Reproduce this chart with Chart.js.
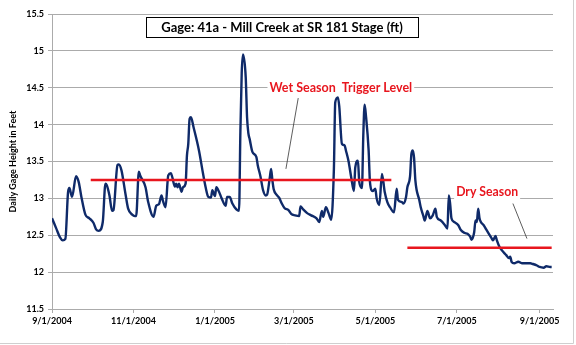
<!DOCTYPE html>
<html>
<head>
<meta charset="utf-8">
<script src="https://cdn.jsdelivr.net/npm/chart.js@4.4.1/dist/chart.umd.min.js"></script>
<style>
body { margin: 0; background: #fff; }
canvas { display: block; }
</style>
</head>
<body>
<canvas id="myChart" width="576" height="345"></canvas>
<script>
// day number counted from 9/1/2004, stage in feet
var days = [0, 3, 6, 8, 10, 12, 13, 15, 18, 20, 22, 25, 28, 31, 33, 35, 38, 40, 41, 43, 45, 46, 49, 50, 52, 55, 57, 60, 62, 63,
    65, 66, 70, 72, 76, 78, 80, 82, 83, 85, 87, 89, 90, 92, 93, 94, 95, 97, 98, 100, 101, 102, 103, 104, 106, 110, 113, 115, 117, 119,
    120, 122, 123, 125, 127, 130, 131, 133, 135, 138, 140, 141, 142, 143, 145, 146, 147, 148, 150, 153, 154, 156, 158, 160, 161, 163, 164, 165, 166, 168,
    170, 172, 174, 177, 179, 182, 185, 186, 188, 191, 194, 198, 200, 202, 203, 205, 207, 209, 211, 212, 214, 215, 217, 219, 220, 222, 224, 226, 227, 229,
    230, 232, 233, 234, 235, 237, 238, 240, 242, 243, 245, 247, 249, 251, 253, 256, 258, 259, 262, 263, 265, 266, 268, 269, 270, 271, 272, 275, 276, 278,
    279, 281, 283, 285, 287, 288, 291, 294, 296, 297, 298, 299, 301, 304, 306, 309, 311, 313, 314, 316, 317, 318, 319, 320, 321, 323, 325, 327, 329, 330,
    332, 333, 335, 338, 340, 342, 343, 344, 346, 349, 352, 355, 358, 360, 363, 365, 368, 370, 373, 374]
var stage = [12.73, 12.60, 12.47, 12.43, 12.45, 13.08, 13.14, 13.02, 13.30, 13.22, 13.02, 12.78, 12.73, 12.67, 12.58, 12.56, 12.68, 13.20, 13.18, 13.04, 12.83, 12.84, 13.45, 13.46, 13.38, 13.06, 12.86, 12.78, 12.76, 12.76,
    13.36, 13.31, 13.15, 12.95, 12.75, 12.90, 12.92, 13.04, 12.97, 12.88, 13.31, 13.34, 13.29, 13.16, 13.20, 13.15, 13.20, 13.09, 13.15, 13.20, 13.58, 13.74, 14.08, 14.10, 13.96, 13.65, 13.34, 13.15, 13.02, 13.01,
    13.11, 13.03, 13.15, 13.09, 13.00, 12.90, 13.02, 13.02, 12.93, 12.85, 12.83, 13.90, 14.70, 14.95, 14.64, 14.10, 13.88, 13.80, 13.63, 13.56, 13.45, 13.30, 13.11, 13.04, 13.05, 13.28, 13.40, 13.24, 13.12, 13.05,
    13.01, 12.93, 12.87, 12.84, 12.79, 12.77, 12.76, 12.89, 12.85, 12.80, 12.77, 12.73, 12.68, 12.83, 12.75, 12.88, 12.80, 12.71, 13.40, 14.30, 14.37, 14.25, 13.74, 13.72, 13.65, 13.50, 13.28, 13.10, 13.42, 13.51,
    13.22, 13.14, 13.85, 14.27, 14.12, 13.65, 13.22, 13.10, 13.13, 13.00, 12.91, 13.33, 13.09, 12.95, 12.88, 12.81, 13.13, 12.98, 12.95, 12.93, 13.02, 13.15, 13.30, 13.60, 13.65, 13.55, 13.24, 12.97, 12.88, 12.76,
    12.70, 12.83, 12.73, 12.77, 12.86, 12.75, 12.70, 12.64, 12.59, 13.04, 12.93, 12.73, 12.68, 12.64, 12.57, 12.53, 12.52, 12.48, 12.44, 12.54, 12.70, 12.68, 12.86, 12.73, 12.68, 12.64, 12.58, 12.52, 12.46, 12.43,
    12.49, 12.43, 12.34, 12.27, 12.23, 12.19, 12.21, 12.14, 12.12, 12.14, 12.12, 12.12, 12.12, 12.11, 12.09, 12.07, 12.06, 12.08, 12.07, 12.07]

// the two red reference lines
var wetDays = [29, 254]
var wetLevel = [13.25, 13.25]
var dryDays = [266, 374]
var dryLevel = [12.33, 12.33]

var tickDays = [0, 61, 122, 181, 242, 303, 365]
var tickLabels = ['9/1/2004', '11/1/2004', '1/1/2005', '3/1/2005', '5/1/2005', '7/1/2005', '9/1/2005']

var titulo = 'Gage: 41a - Mill Creek at SR 181 Stage (ft)'
var ejeY = 'Daily Gage Height in Feet'
var wetText = 'Wet Season  Trigger Level'
var dryText = 'Dry Season'

var navy = '#0f2a69'
var rojo = '#e8161e'
var gris = '#ababab'

function puntos(xs, ys) {
    var arr = []
    for (let i = 0; i < xs.length; i++) {
        arr.push({ x: xs[i], y: ys[i] })
    }
    return arr
}

// title box, red labels with their leader lines, outer frame
const notas = {
    id: 'notas',
    beforeDraw(chart) {
        const ctx = chart.ctx
        ctx.save()
        ctx.strokeStyle = '#cfcfcf'
        ctx.lineWidth = 1
        ctx.beginPath()
        ctx.moveTo(573.5, 0)
        ctx.lineTo(573.5, 343.5)
        ctx.lineTo(0, 343.5)
        ctx.stroke()
        ctx.restore()
    },
    afterDraw(chart) {
        const ctx = chart.ctx
        const sx = chart.scales.x
        const sy = chart.scales.y
        ctx.save()

        // title
        ctx.fillStyle = '#fff'
        ctx.fillRect(146, 17, 272, 20)
        ctx.strokeStyle = '#000'
        ctx.lineWidth = 1
        ctx.strokeRect(146.5, 17.5, 272, 20)
        ctx.fillStyle = '#000'
        ctx.font = 'bold 13px Lato'
        ctx.textAlign = 'center'
        ctx.textBaseline = 'middle'
        ctx.fillText(titulo, 282, 28, 266)

        // leader lines
        ctx.strokeStyle = '#333'
        ctx.lineWidth = 0.8
        ctx.beginPath()
        ctx.moveTo(sx.getPixelForValue(184.3), sy.getPixelForValue(14.36))
        ctx.lineTo(sx.getPixelForValue(175.1), sy.getPixelForValue(13.40))
        ctx.moveTo(sx.getPixelForValue(345), sy.getPixelForValue(12.93))
        ctx.lineTo(sx.getPixelForValue(355.5), sy.getPixelForValue(12.455))
        ctx.stroke()

        // red labels
        ctx.font = 'bold 12.5px Lato'
        var etiquetas = [[wetText, 216.2, 14.5, 158], [dryText, 325.7, 13.085, 62]]
        for (let i = 0; i < etiquetas.length; i++) {
            let t = etiquetas[i]
            let px = sx.getPixelForValue(t[1])
            let py = sy.getPixelForValue(t[2])
            let w = Math.min(ctx.measureText(t[0]).width, t[3])
            ctx.fillStyle = '#fff'
            ctx.fillRect(px - w / 2 - 2, py - 7, w + 4, 14)
            ctx.fillStyle = rojo
            ctx.fillText(t[0], px, py, t[3])
        }
        ctx.restore()
    }
}

const config = {
    type: 'line',
    data: {
        datasets: [{
            label: 'Stage',
            data: puntos(days, stage),
            borderColor: navy,
            borderWidth: 2.4,
            pointRadius: 0,
            cubicInterpolationMode: 'monotone',
            order: 2
        }, {
            label: 'Wet Season Trigger Level',
            data: puntos(wetDays, wetLevel),
            borderColor: rojo,
            borderWidth: 2.4,
            pointRadius: 0,
            order: 1
        }, {
            label: 'Dry Season',
            data: puntos(dryDays, dryLevel),
            borderColor: rojo,
            borderWidth: 2.4,
            pointRadius: 0,
            order: 1
        }]
    },
    options: {
        responsive: false,
        animation: false,
        devicePixelRatio: 1,
        layout: { padding: { left: 0, top: 14, right: 23, bottom: 0 } },
        plugins: {
            legend: { display: false },
            tooltip: { enabled: false }
        },
        scales: {
            x: {
                type: 'linear',
                min: 0,
                max: 375,
                afterBuildTicks: function (axis) {
                    axis.ticks = tickDays.map(function (d) { return { value: d } })
                },
                afterFit: function (axis) { axis.height = 36 },
                ticks: {
                    autoSkip: false,
                    maxRotation: 0,
                    padding: 3,
                    color: '#000',
                    font: { family: 'Lato', size: 9, weight: 'bold' },
                    callback: function (v) {
                        let i = tickDays.indexOf(v)
                        return i >= 0 ? tickLabels[i] : ''
                    }
                },
                grid: { drawOnChartArea: false, drawTicks: true, tickLength: 4, color: gris },
                border: { color: gris }
            },
            y: {
                min: 11.5,
                max: 15.5,
                afterFit: function (axis) { axis.width = 52 },
                ticks: {
                    stepSize: 0.5,
                    padding: 4,
                    color: '#000',
                    font: { family: 'Lato', size: 9, weight: 'bold' },
                    callback: function (v) { return String(v) }
                },
                grid: { color: gris, tickLength: 4 },
                border: { color: gris },
                title: {
                    display: true,
                    text: ejeY,
                    color: '#000',
                    font: { family: 'Lato', size: 9, weight: 'bold' },
                    padding: { top: 8, bottom: 0 }
                }
            }
        }
    },
    plugins: [notas]
}

const myChart = new Chart(document.getElementById('myChart'), config)
</script>
</body>
</html>
